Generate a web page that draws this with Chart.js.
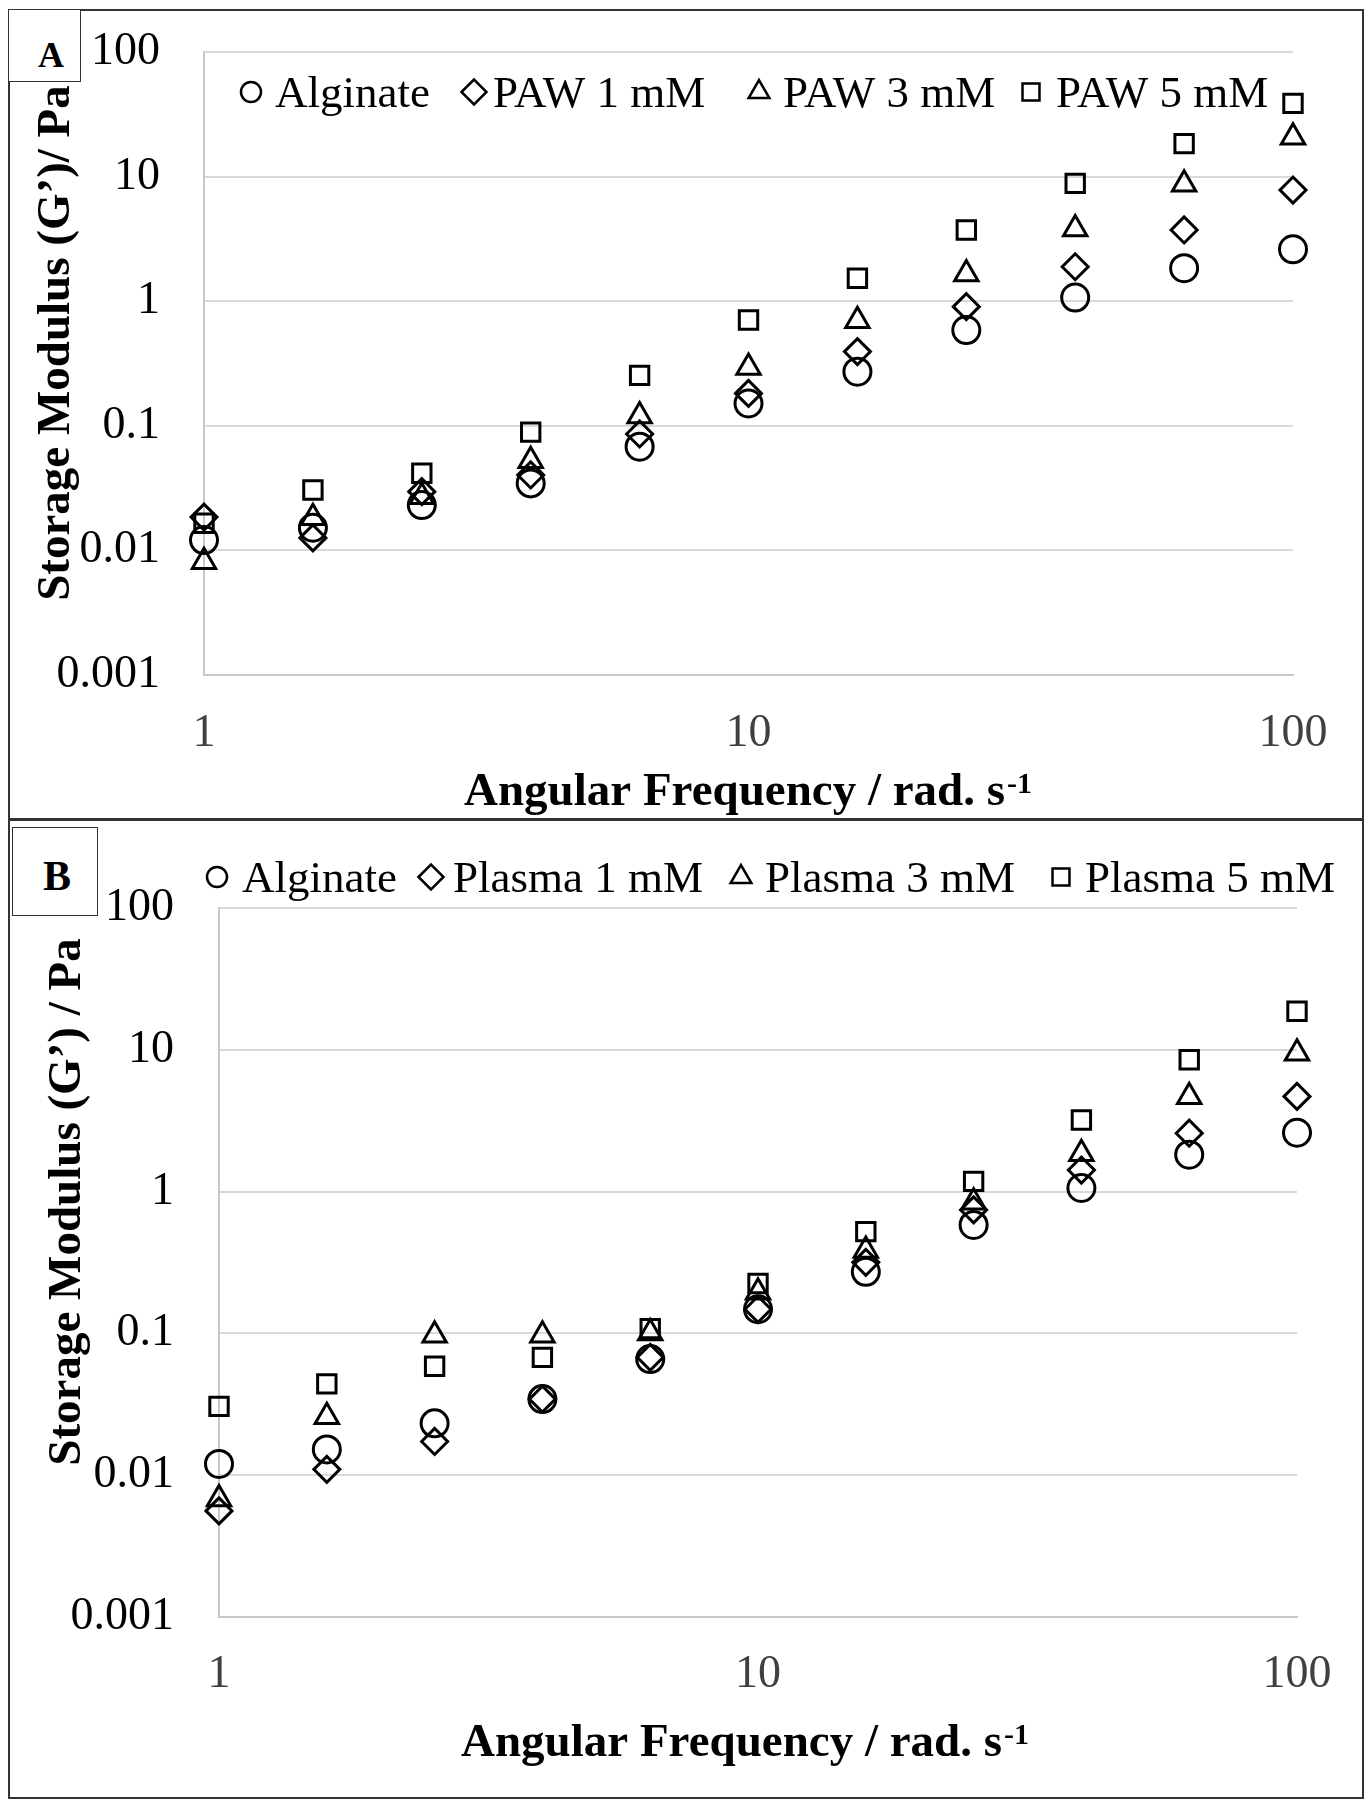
<!DOCTYPE html>
<html>
<head>
<meta charset="utf-8">
<script src="https://cdn.jsdelivr.net/npm/chart.js@4.4.1/dist/chart.umd.min.js"></script>
<style>
  html, body { margin: 0; padding: 0; background: #fff; }
  body { width: 1372px; height: 1811px; position: relative; overflow: hidden; font-family: 'Liberation Serif', serif; }
  .frame { position: absolute; box-sizing: border-box; border: 2px solid #333; }
  canvas { position: absolute; left: 0; }
  .tag { position: absolute; box-sizing: border-box; border: 1.5px solid #333; background: #fff; }
  .tagtxt { position: absolute; font-weight: bold; text-align: center; color: #000; font-family: 'Liberation Serif', serif; }
</style>
</head>
<body>
<div class="frame" style="left:8px;top:9px;width:1356px;height:812px"></div>
<div class="frame" style="left:8px;top:818px;width:1356px;height:981px"></div>
<canvas id="chartA" width="1372" height="819" style="top:0px"></canvas>
<canvas id="chartB" width="1372" height="992" style="top:819px"></canvas>
<div class="tag" style="left:8px;top:9px;width:73px;height:73px"></div>
<div class="tagtxt" style="left:31px;top:37px;width:40px;font-size:36px;line-height:36px">A</div>
<div class="tag" style="left:12px;top:827px;width:86px;height:89px"></div>
<div class="tagtxt" style="left:35px;top:855px;width:44px;font-size:42px;line-height:42px">B</div>

<script>
// ---------- data ----------
const freq = [1, 1.585, 2.512, 3.981, 6.31, 10, 15.85, 25.12, 39.81, 63.1, 100];

// Panel A
const namesA = ['Alginate', 'PAW 1 mM', 'PAW 3 mM', 'PAW 5 mM'];
const aAlginate = [0.0121, 0.0152, 0.0231, 0.0345, 0.068, 0.151, 0.272, 0.587, 1.07, 1.84, 2.61];
const aPaw1     = [0.0185, 0.0126, 0.0296, 0.0403, 0.086, 0.182, 0.394, 0.904, 1.89, 3.73, 7.8];
const aPaw3     = [0.0081, 0.0183, 0.027, 0.0525, 0.12, 0.294, 0.698, 1.65, 3.79, 8.7, 20.7];
const aPaw5     = [0.0165, 0.0305, 0.0416, 0.089, 0.254, 0.706, 1.53, 3.73, 8.83, 18.4, 38.7];

// Panel B
const namesB = ['Alginate', 'Plasma 1 mM', 'Plasma 3 mM', 'Plasma 5 mM'];
const bAlginate = [0.0120, 0.0152, 0.0232, 0.0344, 0.0659, 0.148, 0.272, 0.582, 1.06, 1.82, 2.6];
const bPlasma1  = [0.0056, 0.011, 0.0173, 0.0344, 0.0678, 0.148, 0.317, 0.743, 1.42, 2.58, 4.69];
const bPlasma3  = [0.0068, 0.0258, 0.097, 0.097, 0.1006, 0.195, 0.384, 0.84, 1.85, 4.66, 9.46];
const bPlasma5  = [0.0306, 0.0441, 0.0586, 0.0678, 0.108, 0.225, 0.522, 1.18, 3.2, 8.5, 18.7];

// Axis ticks
const xTickValues = [1, 10, 100];
const xTickLabels = ['1', '10', '100'];
const yTickValues = [0.001, 0.01, 0.1, 1, 10, 100];
const yTickLabels = ['0.001', '0.01', '0.1', '1', '10', '100'];

// Titles
const xTitleMain = 'Angular Frequency / rad. s';
const xTitleSup = '-1';
const yTitleA = 'Storage Modulus (G\u2019)/ Pa';
const yTitleB = 'Storage Modulus (G\u2019) / Pa';

// ---------- styling ----------
const FAMILY = "'Liberation Serif', 'Times New Roman', serif";
const markerStyles = ['circle', 'rectRot', 'triangle', 'rect'];
const markerRadii = [13.5, 13, 13.5, 13];
const legendRadii = [10, 12.5, 12, 12];

Chart.defaults.font.family = FAMILY;

function drawShape(ctx, style, r, x, y) {
  if (Chart.helpers && Chart.helpers.drawPoint) {
    Chart.helpers.drawPoint(ctx, { pointStyle: style, radius: r, rotation: 0, borderWidth: ctx.lineWidth }, x, y);
    return;
  }
  ctx.beginPath();
  if (style === 'circle') ctx.arc(x, y, r, 0, Math.PI * 2);
  else if (style === 'rect') { const s = r * Math.SQRT1_2; ctx.rect(x - s, y - s, 2 * s, 2 * s); }
  else if (style === 'rectRot') { ctx.moveTo(x - r, y); ctx.lineTo(x, y - r); ctx.lineTo(x + r, y); ctx.lineTo(x, y + r); ctx.closePath(); }
  else if (style === 'triangle') {
    let a = 0;
    ctx.moveTo(x + Math.sin(a) * r, y - Math.cos(a) * r); a += 2 * Math.PI / 3;
    ctx.lineTo(x + Math.sin(a) * r, y - Math.cos(a) * r); a += 2 * Math.PI / 3;
    ctx.lineTo(x + Math.sin(a) * r, y - Math.cos(a) * r); ctx.closePath();
  }
  ctx.stroke();
}

function makePanel(canvasId, P) {
  const datasets = P.series.map((vals, i) => ({
    label: P.names[i],
    data: freq.map((f, k) => ({ x: f, y: vals[k] })),
    pointStyle: markerStyles[i],
    pointRadius: markerRadii[i],
    pointHoverRadius: markerRadii[i],
    pointBorderWidth: 3,
    pointBorderColor: '#000',
    pointBackgroundColor: 'rgba(0,0,0,0)',
    showLine: false,
    clip: false
  }));

  const decor = {
    id: 'decor_' + canvasId,
    afterDraw(chart) {
      const ctx = chart.ctx;
      ctx.save();
      // legend
      ctx.strokeStyle = '#000';
      ctx.lineWidth = 2.5;
      P.legendX.forEach((cx, i) => {
        ctx.fillStyle = 'rgba(0,0,0,0)';
        drawShape(ctx, markerStyles[i], legendRadii[i], cx, P.legendMarkerY);
      });
      ctx.fillStyle = '#000';
      ctx.font = '45px ' + FAMILY;
      ctx.textAlign = 'left';
      ctx.textBaseline = 'alphabetic';
      P.legendX.forEach((cx, i) => {
        ctx.fillText(P.names[i], cx + P.legendGap[i], P.legendBaseline);
      });
      // y title
      ctx.save();
      ctx.translate(P.yTitleX, P.yTitleY);
      ctx.rotate(-Math.PI / 2);
      ctx.font = 'bold 47px ' + FAMILY;
      ctx.textAlign = 'center';
      ctx.textBaseline = 'alphabetic';
      ctx.fillText(P.yTitle, 0, 0);
      ctx.restore();
      // x title with superscript
      ctx.font = 'bold 47px ' + FAMILY;
      const wMain = ctx.measureText(xTitleMain).width;
      ctx.font = 'bold 30px ' + FAMILY;
      const wSup = ctx.measureText(xTitleSup).width;
      const start = P.xTitleCX - (wMain + wSup + 2) / 2;
      ctx.textAlign = 'left';
      ctx.font = 'bold 47px ' + FAMILY;
      ctx.fillText(xTitleMain, start, P.xTitleBaseline);
      ctx.font = 'bold 30px ' + FAMILY;
      ctx.fillText(xTitleSup, start + wMain + 2, P.xTitleBaseline - 12);
      ctx.restore();
    }
  };

  return new Chart(document.getElementById(canvasId), {
    type: 'scatter',
    data: { datasets },
    options: {
      responsive: false,
      animation: false,
      events: [],
      layout: { padding: { left: 0, top: P.padTop, right: P.padRight, bottom: 0 } },
      plugins: { legend: { display: false }, tooltip: { enabled: false }, title: { display: false } },
      scales: {
        x: {
          type: 'logarithmic',
          position: 'bottom',
          min: 1,
          max: 100,
          afterBuildTicks(s) { s.ticks = xTickValues.map(v => ({ value: v })); },
          afterFit(s) { s.height = P.xAxisHeight; },
          grid: { display: false, drawTicks: false },
          border: { display: true, color: '#c8c8c8', width: 2 },
          ticks: {
            padding: P.xTickPad,
            maxRotation: 0,
            autoSkip: false,
            color: '#404040',
            font: { size: 46, family: FAMILY },
            callback(v) { const i = xTickValues.indexOf(v); return i >= 0 ? xTickLabels[i] : ''; }
          },
          title: { display: false }
        },
        y: {
          type: 'logarithmic',
          position: 'left',
          min: 0.001,
          max: 100,
          afterBuildTicks(s) { s.ticks = yTickValues.map(v => ({ value: v })); },
          afterFit(s) { s.width = P.yAxisWidth; },
          grid: { color: '#d9d9d9', lineWidth: 2, drawTicks: true, tickLength: P.yTickGap, tickColor: 'rgba(0,0,0,0)' },
          border: { display: true, color: '#c8c8c8', width: 2 },
          ticks: {
            padding: 0,
            autoSkip: false,
            color: '#000',
            font: { size: 46, family: FAMILY },
            callback(v) { const i = yTickValues.indexOf(v); return i >= 0 ? yTickLabels[i] : ''; }
          },
          title: { display: false }
        }
      }
    },
    plugins: [decor]
  });
}

makePanel('chartA', {
  names: namesA,
  series: [aAlginate, aPaw1, aPaw3, aPaw5],
  padTop: 52, padRight: 79,
  yAxisWidth: 204, xAxisHeight: 144,
  yTickGap: 44, xTickPad: 31,
  legendX: [251, 474, 759, 1031],
  legendGap: [24, 19, 24, 25],
  legendMarkerY: 92, legendBaseline: 107,
  yTitle: yTitleA, yTitleX: 69, yTitleY: 343,
  xTitleCX: 748, xTitleBaseline: 805
});

makePanel('chartB', {
  names: namesB,
  series: [bAlginate, bPlasma1, bPlasma3, bPlasma5],
  padTop: 89, padRight: 75,
  yAxisWidth: 219, xAxisHeight: 194,
  yTickGap: 45, xTickPad: 30,
  legendX: [217, 431, 741, 1061],
  legendGap: [25, 22, 24, 24],
  legendMarkerY: 58, legendBaseline: 73,
  yTitle: yTitleB, yTitleX: 80, yTitleY: 383,
  xTitleCX: 745, xTitleBaseline: 937
});
</script>
</body>
</html>
